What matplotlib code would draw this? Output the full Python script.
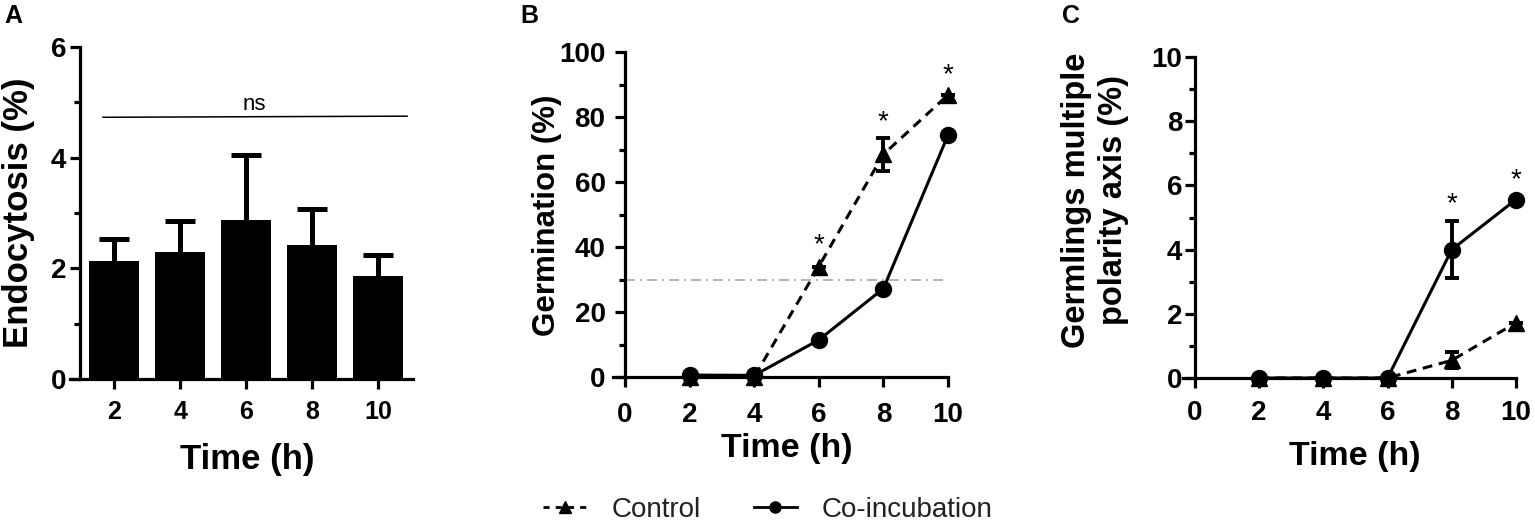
import matplotlib
matplotlib.use("Agg")
import matplotlib.pyplot as plt
from matplotlib.lines import Line2D
from matplotlib.ticker import MultipleLocator

plt.rcParams['font.family'] = ['Liberation Sans', 'DejaVu Sans']
plt.rcParams['font.weight'] = 'bold'
plt.rcParams['xtick.labelsize'] = 20
plt.rcParams['ytick.labelsize'] = 20

# ---------------- data ----------------
# Panel A
a_times = ["2", "4", "6", "8", "10"]
a_endo = [2.13, 2.30, 2.87, 2.43, 1.87]
a_err = [0.40, 0.56, 1.17, 0.65, 0.37]

# Panel B
times = [2, 4, 6, 8, 10]
b_control = [0.0, 0.0, 34.0, 68.5, 86.8]
b_control_err = [0, 0, 0, 5.0, 0]
b_coinc = [0.6, 0.5, 11.4, 27.2, 74.4]
b_coinc_err = [0, 0, 0, 0, 0]
b_threshold = 30

# Panel C
c_control = [0.0, 0.0, 0.0, 0.55, 1.72]
c_control_err = [0, 0, 0, 0.25, 0]
c_coinc = [0.0, 0.0, 0.0, 4.0, 5.56]
c_coinc_err = [0, 0, 0, 0.88, 0]

legend_labels = ["Control", "Co-incubation"]

W, H = 1535, 527
fig = plt.figure(figsize=(W / 100, H / 100), dpi=100)


def frac_box(x0, x1, ytop, ybot):
    return [x0 / W, 1 - ybot / H, (x1 - x0) / W, (ybot - ytop) / H]


def style_axes(ax, ypad, xpad, xlsize, ylsize):
    for s in ['top', 'right']:
        ax.spines[s].set_visible(False)
    for s in ['left', 'bottom']:
        ax.spines[s].set_linewidth(2.3)
    ax.tick_params(axis='both', which='major', length=7, width=2.3)
    ax.tick_params(axis='both', which='minor', length=4.5, width=2.3)
    ax.tick_params(axis='y', which='major', pad=ypad, labelsize=ylsize)
    ax.tick_params(axis='x', which='major', pad=xpad, labelsize=xlsize)


# ---------------- Panel A ----------------
axA = fig.add_axes(frac_box(70, 413, 47, 379))
xa = list(range(len(a_times)))
axA.bar(xa, a_endo, width=0.755, color='black', zorder=3)
axA.errorbar(xa, a_endo, yerr=a_err, fmt='none', ecolor='black',
             elinewidth=3.6, capsize=11, capthick=3.6, zorder=2)
axA.set_xlim(-0.67, 4.53)
axA.set_ylim(0, 6)
axA.spines['left'].set_position(('data', -0.52))
axA.set_xticks(xa)
axA.set_xticklabels(a_times)
axA.set_yticks([0, 2, 4, 6])
axA.yaxis.set_minor_locator(MultipleLocator(1))
style_axes(axA, ypad=3, xpad=8, xlsize=18, ylsize=20)
axA.plot([-0.17, 4.44], [4.73, 4.75], color='black', lw=1.1, clip_on=False)
axA.text(2.12, 4.78, "ns", ha='center', va='bottom', fontsize=16, fontweight='normal')

# ---------------- Panel B ----------------
dash = (0, (3.2, 2.2))
axB = fig.add_axes(frac_box(613, 948, 52, 377))
axB.axhline(b_threshold, xmin=0.37 / 10.37, xmax=1, color='#a8a8a8', lw=1.2,
            ls=(0, (6, 3, 1.2, 3)), zorder=1)
axB.errorbar(times, b_control, yerr=b_control_err, color='black', lw=2.2,
             ls=dash, marker='^', ms=11, capsize=5, capthick=2.8,
             elinewidth=2.8, clip_on=False, zorder=3)
axB.errorbar(times, b_coinc, yerr=b_coinc_err, color='black', lw=2.2,
             ls='-', marker='o', ms=11.5, capsize=5, capthick=2.8,
             elinewidth=2.8, clip_on=False, zorder=4)
axB.set_xlim(-0.37, 10)
axB.set_ylim(0, 100)
axB.spines['left'].set_position(('data', 0))
axB.set_xticks([0, 2, 4, 6, 8, 10])
axB.set_yticks([0, 20, 40, 60, 80, 100])
axB.yaxis.set_minor_locator(MultipleLocator(10))
style_axes(axB, ypad=7, xpad=11, xlsize=20, ylsize=20)
for xs, ys in [(6, 40.5), (8, 78.5), (10, 93)]:
    axB.text(xs, ys, "*", ha='center', va='center', fontsize=20, fontweight='normal')

# ---------------- Panel C ----------------
axC = fig.add_axes(frac_box(1183, 1516, 57, 378))
axC.errorbar(times, c_control, yerr=c_control_err, color='black', lw=2.2,
             ls=dash, marker='^', ms=11, capsize=5, capthick=2.8,
             elinewidth=2.8, clip_on=False, zorder=3)
axC.errorbar(times, c_coinc, yerr=c_coinc_err, color='black', lw=2.2,
             ls='-', marker='o', ms=11.5, capsize=5, capthick=2.8,
             elinewidth=2.8, clip_on=False, zorder=4)
axC.set_xlim(-0.37, 10)
axC.set_ylim(0, 10)
axC.spines['left'].set_position(('data', 0))
axC.set_xticks([0, 2, 4, 6, 8, 10])
axC.set_yticks([0, 2, 4, 6, 8, 10])
axC.yaxis.set_minor_locator(MultipleLocator(1))
style_axes(axC, ypad=2, xpad=9, xlsize=20, ylsize=20)
for xs, ys in [(8, 5.4), (10, 6.15)]:
    axC.text(xs, ys, "*", ha='center', va='center', fontsize=20, fontweight='normal')

# ---------------- labels ----------------
def fx(px):
    return px / W


def fy(py):
    return 1 - py / H


axA.set_ylabel("Endocytosis (%)", fontsize=25, fontweight='bold', va='center', ha='center')
axA.yaxis.set_label_coords(fx(19), fy(213), transform=fig.transFigure)
axA.set_xlabel("Time (h)", fontsize=25, fontweight='bold', va='center', ha='center')
axA.xaxis.set_label_coords(fx(247), fy(460), transform=fig.transFigure)

axB.set_ylabel("Germination (%)", fontsize=22.5, fontweight='bold', va='center', ha='center')
axB.yaxis.set_label_coords(fx(547), fy(215), transform=fig.transFigure)
axB.set_xlabel("Time (h)", fontsize=24.5, fontweight='bold', va='center', ha='center')
axB.xaxis.set_label_coords(fx(787), fy(448), transform=fig.transFigure)

axC.set_ylabel("Germlings multiple\npolarity axis (%)", fontsize=23.5, fontweight='bold',
               va='center', ha='center', linespacing=1.25)
axC.yaxis.set_label_coords(fx(1095), fy(200), transform=fig.transFigure)
axC.set_xlabel("Time (h)", fontsize=24.5, fontweight='bold', va='center', ha='center')
axC.xaxis.set_label_coords(fx(1355), fy(457), transform=fig.transFigure)

for lab, px, py in [("A", 4, 4), ("B", 520, 4), ("C", 1062, 4)]:
    fig.text(fx(px), fy(py), lab, fontsize=18, fontweight='bold', ha='left', va='top')

# ---------------- legend ----------------
h_control = Line2D([], [], color='black', lw=2, ls=(0, (2.2, 2.2)), marker='^', ms=8)
h_coinc = Line2D([], [], color='black', lw=2, ls='-', marker='o', ms=8)
fig.legend([h_control, h_coinc], legend_labels, loc='center',
           bbox_to_anchor=(fx(768), fy(510)), ncol=2, frameon=False,
           prop={'size': 20, 'weight': 'normal'}, handlelength=1.55,
           handletextpad=0.9, columnspacing=1.9,
           labelcolor='#222222', borderpad=0, borderaxespad=0)

fig.savefig("out.png", dpi=100)
